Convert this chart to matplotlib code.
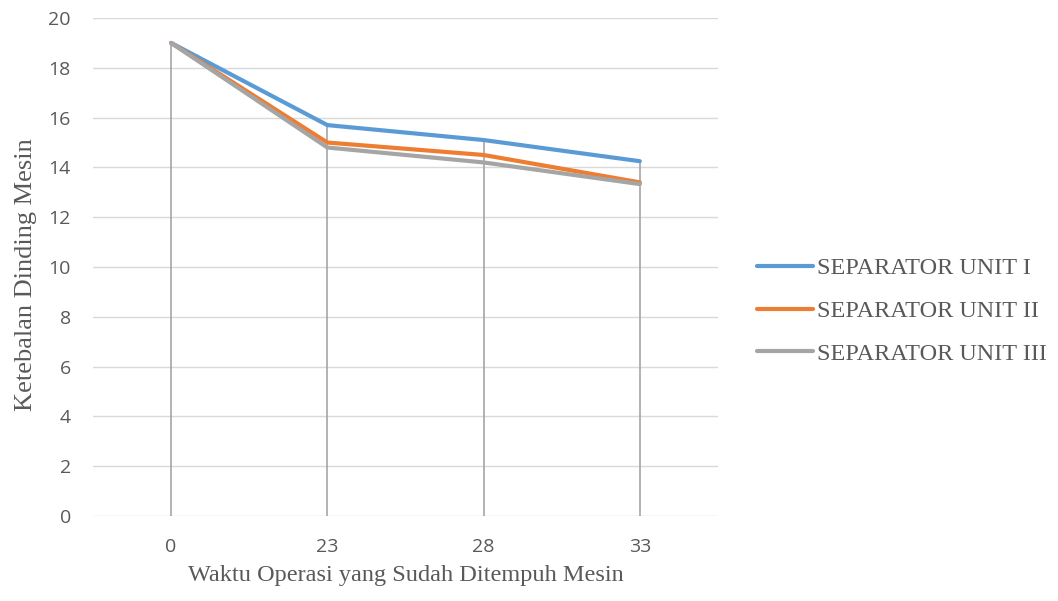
import matplotlib
matplotlib.use("Agg")
import matplotlib.pyplot as plt
import numpy as np

# Data
categories = ["0", "23", "28", "33"]
unit_1 = [19.0, 15.7, 15.1, 14.25]
unit_2 = [19.0, 15.0, 14.5, 13.4]
unit_3 = [19.0, 14.8, 14.2, 13.33]
series_names = ["SEPARATOR UNIT I", "SEPARATOR UNIT II", "SEPARATOR UNIT III"]
y_ticks = [0, 2, 4, 6, 8, 10, 12, 14, 16, 18, 20]

colors = ["#5b9bd5", "#ed7d31", "#a5a5a5"]
text_gray = "#595959"

fig = plt.figure(figsize=(10.58, 6.01), dpi=100)
ax = fig.add_axes([0.0879, 0.1414, 0.5907, 0.8286])

x = np.arange(len(categories))
all_series = [unit_1, unit_2, unit_3]

# drop lines from the highest point down to the axis
tops = np.max(np.array(all_series), axis=0)
ax.vlines(x, 0, tops, color="#a5a5a5", linewidth=1.2, zorder=2)

for vals, name, c in zip(all_series, series_names, colors):
    ax.plot(x, vals, color=c, linewidth=3.0, solid_capstyle="round",
            solid_joinstyle="round", label=name, zorder=3)

ax.set_xlim(-0.5, len(categories) - 0.5)
ax.set_ylim(0, 20)
ax.set_yticks(y_ticks)
ax.set_xticks(x)
ax.set_xticklabels(categories)
ax.grid(axis="y", color="#d9d9d9", linewidth=1.0, zorder=0)
ax.set_axisbelow(True)
for s in ax.spines.values():
    s.set_visible(False)
ax.tick_params(length=0, labelsize=14, labelcolor=text_gray)
for lab in ax.get_xticklabels() + ax.get_yticklabels():
    lab.set_fontfamily("Open Sans")
ax.tick_params(axis="y", pad=16)
ax.tick_params(axis="x", pad=16)

ax.set_xlabel("Waktu Operasi yang Sudah Ditempuh Mesin", fontfamily="Liberation Serif",
              fontsize=17.5, color=text_gray, labelpad=6)
ax.set_ylabel("Ketebalan Dinding Mesin", fontfamily="Liberation Serif",
              fontsize=19, color=text_gray)
ax.yaxis.set_label_coords(-0.09, 0.484)

leg = ax.legend(loc="center left", bbox_to_anchor=(0.7156, 0.4825),
                bbox_transform=fig.transFigure, frameon=False,
                prop={"family": "Liberation Serif", "size": 17.5},
                handlelength=2.3, handletextpad=0.15, labelspacing=0.85,
                borderpad=0, borderaxespad=0)
for t in leg.get_texts():
    t.set_color(text_gray)

plt.savefig("out.png", dpi=100)
plt.close(fig)
